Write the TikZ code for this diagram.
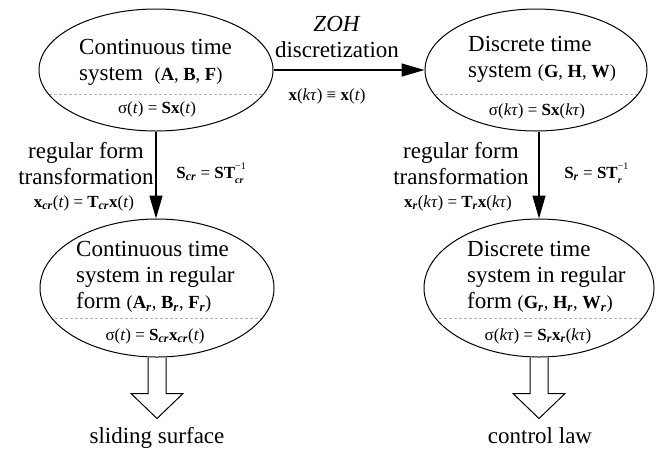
\documentclass[tikz,border=0pt]{standalone}
\usepackage{fontspec}
\setmainfont{Liberation Serif}
\usetikzlibrary{arrows.meta,positioning,calc,shapes.geometric}
\newcommand{\vb}[1]{\textbf{#1}}
\newcommand{\sbi}[1]{\textsubscript{\textbf{\textit{#1}}}}
\newcommand{\invsb}[1]{\rlap{\raisebox{0.52em}{\fontsize{10}{10}\selectfont −1}}\raisebox{-0.3em}{\fontsize{10}{10}\selectfont\textbf{\textit{#1}}}}
\newcommand{\tu}{\textit{kτ}}
\newcommand{\bigfont}{\fontsize{23}{26}\selectfont}
\newcommand{\parfont}{\fontsize{18.5}{20}\selectfont}
\newcommand{\eqfont}{\fontsize{17}{20}\selectfont}

\begin{document}
\begin{tikzpicture}[
  x=1pt,y=-1pt,
  sys/.style={draw,ellipse,line width=1pt,inner sep=0pt},
  split/.style={path picture={\draw[sep] ([yshift=-#1]path picture bounding box.west) -- ([yshift=-#1]path picture bounding box.east);}},
  sep/.style={draw=gray!60,dash pattern=on 3pt off 2pt,line width=0.6pt},
  txt/.style={font=\bigfont,align=left,inner sep=0pt,anchor=west},
  lbl/.style={font=\bigfont,align=center,inner sep=0pt},
  eq/.style={font=\eqfont,inner sep=0pt,anchor=base},
  flow/.style={-{Triangle[length=23pt,width=13pt]},line width=1.2pt},
  hollow/.style={draw,line width=1pt,line join=miter}]
\useasboundingbox (0,0) rectangle (660,451);
% the four systems
\node[sys,minimum width=234,minimum height=122,split=24pt] (cts) at (156,70) {};
\node[sys,minimum width=222,minimum height=122,split=24pt] (dts) at (536,70) {};
\node[sys,minimum width=234,minimum height=138,split=30pt] (crs) at (157,288) {};
\node[sys,minimum width=230,minimum height=138,split=30pt] (drs) at (539,288) {};
\node[txt] (cts-txt) at (79,62) {Continuous time\\system\ \ {\parfont(\vb{A}, \vb{B}, \vb{F})}};
\node[eq] (cts-eq) at (157,113) {σ(\textit{t}) = \vb{Sx}(\textit{t})};
\node[txt] (dts-txt) at (468,59) {Discrete time\\system {\parfont(\vb{G}, \vb{H}, \vb{W})}};
\node[eq] (dts-eq) at (537,115) {σ(\tu) = \vb{Sx}(\tu)};
\node[txt] (crs-txt) at (76,277) {Continuous time\\system in regular\\form {\parfont(\vb{A}\sbi{r}, \vb{B}\sbi{r}, \vb{F}\sbi{r})}};
\node[eq] (crs-eq) at (155,340) {σ(\textit{t}) = \vb{S}\sbi{cr}\vb{x}\sbi{cr}(\textit{t})};
\node[txt] (drs-txt) at (467,277) {Discrete time\\system in regular\\form {\parfont(\vb{G}\sbi{r}, \vb{H}\sbi{r}, \vb{W}\sbi{r})}};
\node[eq] (drs-eq) at (538,340) {σ(\tu) = \vb{S}\sbi{r}\vb{x}\sbi{r}(\tu)};
% transitions
\draw[flow] (cts.east) -- (dts.west);
\node[lbl] (zoh) at (337,37) {\textit{ZOH}\\discretization};
\node[eq] (zoh-eq) at (327,100) {\vb{x}(\tu) ≡ \vb{x}(\textit{t})};
\draw[flow] (cts.south) -- (cts.south |- crs.north);
\node[lbl] (crt) at (86,164) {regular form\\transformation};
\node[eq] (crt-eq) at (84,207) {\vb{x}\sbi{cr}(\textit{t}) = \vb{T}\sbi{cr}\vb{x}(\textit{t})};
\node[eq] (crt-s) at (210,178) {\vb{S}\sbi{cr} = \vb{ST}\invsb{cr}};
\draw[flow] (drs.north |- dts.south) -- (drs.north);
\node[lbl] (drt) at (461,164) {regular form\\transformation};
\node[eq] (drt-eq) at (458,207) {\vb{x}\sbi{r}(\tu) = \vb{T}\sbi{r}\vb{x}(\tu)};
\node[eq] (drt-s) at (593,178) {\vb{S}\sbi{r} = \vb{ST}\invsb{r}};
% outputs
\foreach \n in {crs,drs}
  \draw[hollow] (\n.south) ++(-9,0) -- ++(0,36) -- ++(-17,0) -- ++(26,25) -- ++(26,-25) -- ++(-17,0) -- ++(0,-36);
\node[lbl,anchor=base] (slide) at (157,443) {sliding surface};
\node[lbl,anchor=base] (law) at (540,443) {control law};
\end{tikzpicture}
\end{document}
